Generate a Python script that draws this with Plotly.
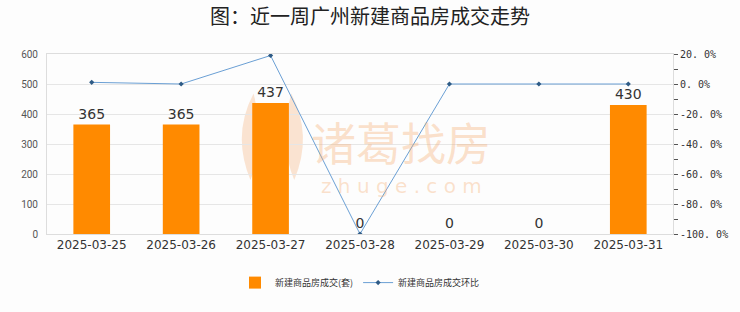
import plotly.graph_objects as go

dates = ["2025-03-25", "2025-03-26", "2025-03-27", "2025-03-28", "2025-03-29", "2025-03-30", "2025-03-31"]
volume = [365, 365, 437, 0, 0, 0, 430]
mom_pct = [1.1, 0.0, 19.0, -100.0, 0.0, 0.0, 0.0]
left_ticks = [0, 100, 200, 300, 400, 500, 600]
right_ticks = [20, 0, -20, -40, -60, -80, -100]
right_labels = ["20. 0%", "0. 0%", "-20. 0%", "-40. 0%", "-60. 0%", "-80. 0%", "-100. 0%"]

font_main = "Noto Sans CJK SC, Roboto, sans-serif"
wm = "rgba(245,170,110,0.35)"

fig = go.Figure()
fig.add_trace(go.Bar(
    x=dates, y=volume, name="新建商品房成交(套)",
    marker=dict(color="#ff8a00", line=dict(width=0)),
    width=0.41,
    text=[str(v) for v in volume], textposition="outside",
    textfont=dict(size=14, color="#333333", family="DejaVu Sans"),
    cliponaxis=False,
))
fig.add_trace(go.Scatter(
    x=dates, y=mom_pct, name="新建商品房成交环比", yaxis="y2",
    mode="lines+markers",
    line=dict(color="#6a9fd4", width=1),
    marker=dict(color="#2e5b86", size=4, symbol="diamond"),
))

# watermark
fig.add_annotation(text="诸葛找房", x=0.566, y=0.515, xref="paper", yref="paper",
                   showarrow=False, xanchor="center", yanchor="middle",
                   font=dict(size=45, color=wm, family=font_main))
fig.add_annotation(text="z h u g e . c o m", x=0.566, y=0.268, xref="paper", yref="paper",
                   showarrow=False, xanchor="center", yanchor="middle",
                   font=dict(size=20, color=wm, family="DejaVu Sans"))
fig.add_shape(type="path", xref="paper", yref="paper",
              path="M 0.33 0.78 Q 0.295 0.55 0.325 0.30 Q 0.35 0.5 0.33 0.78 Z",
              fillcolor="rgba(245,170,110,0.3)", line=dict(width=0), layer="below")
fig.add_shape(type="path", xref="paper", yref="paper",
              path="M 0.39 0.78 Q 0.425 0.55 0.395 0.30 Q 0.37 0.5 0.39 0.78 Z",
              fillcolor="rgba(245,170,110,0.3)", line=dict(width=0), layer="below")

fig.update_layout(
    width=740, height=312,
    margin=dict(l=47, r=62, t=54, b=78),
    paper_bgcolor="#fdfdfd", plot_bgcolor="rgba(0,0,0,0)",
    title=dict(text="图：近一周广州新建商品房成交走势", x=0.5, xanchor="center", y=0.945, yanchor="middle",
               font=dict(size=20, color="#222222", family=font_main)),
    xaxis=dict(type="category", tickfont=dict(size=12, color="#333333", family="DejaVu Sans"),
               showline=True, linecolor="#dddddd", mirror=True, ticks="", showgrid=False),
    yaxis=dict(range=[0, 600], tickvals=left_ticks, tickfont=dict(size=10, color="#555555", family="Roboto"),
               showgrid=True, gridcolor="#e6e6e6", zeroline=False,
               showline=True, linecolor="#dddddd", mirror=True, ticklen=6, tickcolor="rgba(0,0,0,0)", ticks="outside"),
    yaxis2=dict(range=[-100, 20], overlaying="y", side="right", tickvals=right_ticks, ticktext=right_labels,
                tickfont=dict(size=10, color="#333333", family="DejaVu Sans Mono"),
                showgrid=False, zeroline=False, ticks="outside", ticklen=4, tickcolor="#555555",
                minor=dict(dtick=10, ticks="outside", ticklen=4, tickcolor="#555555")),
    legend=dict(orientation="h", x=0.5, xanchor="center", y=-0.27, yanchor="middle",
                font=dict(size=9, color="#333333", family=font_main), itemwidth=30),
    showlegend=True,
)

fig.write_html("out.html")
